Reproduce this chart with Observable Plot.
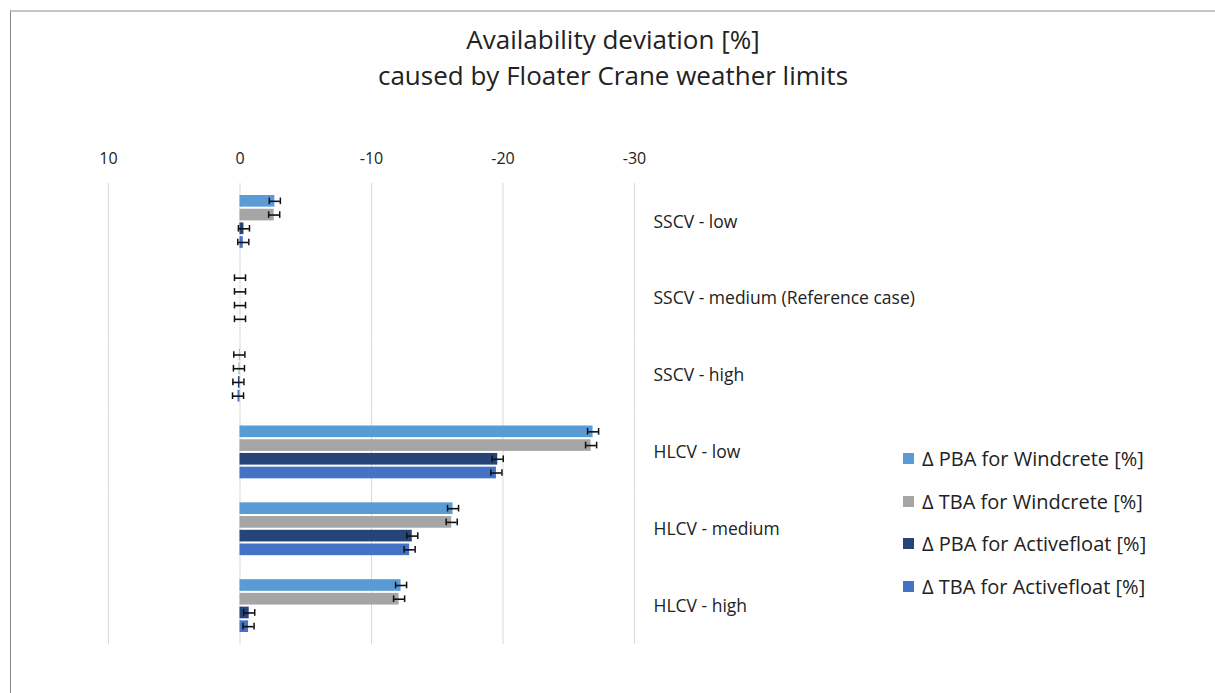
<!DOCTYPE html>
<html>
<head>
<meta charset="utf-8">
<script src="https://cdn.jsdelivr.net/npm/d3@7"></script>
<script src="https://cdn.jsdelivr.net/npm/@observablehq/plot@0.6"></script>
<style>
  html, body { margin: 0; padding: 0; background: #fff; }
  #page { position: relative; width: 1215px; height: 693px; overflow: hidden; font-family: "Open Sans", Lato, sans-serif; }
  #frame { position: absolute; left: 10px; top: 10px; right: -5px; bottom: -5px; border-top: 2px solid #c6c6c6; border-left: 1px solid #8a8a8a; }
  #title { position: absolute; left: 0; top: 21px; width: 1226px; text-align: center; font-size: 26px; line-height: 36px; color: #222; }
  #chart { position: absolute; left: 0; top: 130px; }
  #legend { position: absolute; left: 903px; top: 437px; }
  #legend .lg-swatches { font-family: "Open Sans", Lato, sans-serif !important; font-size: 20px !important; color: #222 !important; margin: 0 !important; }
  #legend .lg-swatch { height: 42.7px !important; padding: 0 !important; margin: 0 !important; display: flex !important; align-items: center !important; font-size: 20px !important; }
  #legend .lg-swatch svg { margin-right: 8px !important; }
</style>
</head>
<body>
<div id="page">
  <div id="frame"></div>
  <div id="title">Availability deviation [%]<br>caused by Floater Crane weather limits</div>
  <div id="chart"></div>
  <div id="legend"></div>
</div>
<script>
const categories = ["SSCV - low", "SSCV - medium (Reference case)", "SSCV - high", "HLCV - low", "HLCV - medium", "HLCV - high"];
const series = ["Δ PBA for Windcrete [%]", "Δ TBA for Windcrete [%]", "Δ PBA for Activefloat [%]", "Δ TBA for Activefloat [%]"];
const pbaWindcrete   = [-2.65, 0, 0.05, -26.85, -16.2, -12.25];
const tbaWindcrete   = [-2.6,  0, 0.08, -26.7,  -16.1, -12.1];
const pbaActivefloat = [-0.3,  0, 0.12, -19.6,  -13.1, -0.7];
const tbaActivefloat = [-0.25, 0, 0.15, -19.5,  -12.9, -0.65];
const errorMargin    = [0.42, 0.42, 0.42, 0.42, 0.42, 0.42];
const xTicks = [10, 0, -10, -20, -30];
const colors = ["#5b9bd5", "#a5a5a5", "#264478", "#4472c4"];

const seriesValues = [pbaWindcrete, tbaWindcrete, pbaActivefloat, tbaActivefloat];
const rows = [];
categories.forEach((c, i) => {
  series.forEach((s, j) => {
    rows.push({category: c, series: s, value: seriesValues[j][i], err: errorMargin[i]});
  });
});

const chart = Plot.plot({
  width: 1215,
  height: 563,
  marginTop: 53,
  marginBottom: 49,
  marginLeft: 108,
  marginRight: 581,
  style: {fontFamily: "'Open Sans', Lato, sans-serif", fontSize: "15.5px", color: "#222", background: "transparent", overflow: "visible"},
  x: {domain: [10, -30], axis: null, label: null},
  y: {domain: series, paddingInner: 0.15, paddingOuter: 0.875, round: false, axis: null, label: null},
  fy: {domain: categories, padding: 0, round: false, axis: null, label: null},
  color: {domain: series, range: colors},
  marks: [
    Plot.gridX(xTicks, {stroke: "#d9d9d9", strokeOpacity: 1, strokeWidth: 1}),
    Plot.barX(rows, {x: "value", y: "series", fy: "category", fill: "series"}),
    Plot.ruleY(rows, {x1: d => d.value - d.err, x2: d => d.value + d.err, y: "series", fy: "category", stroke: "#111", strokeWidth: 1.6}),
    Plot.tickX(rows, {x: d => d.value - d.err, y: "series", fy: "category", stroke: "#111", strokeWidth: 1.5, insetTop: 2.5, insetBottom: 2.5}),
    Plot.tickX(rows, {x: d => d.value + d.err, y: "series", fy: "category", stroke: "#111", strokeWidth: 1.5, insetTop: 2.5, insetBottom: 2.5}),
    Plot.axisX({ticks: xTicks, anchor: "top", tickSize: 0, tickPadding: 20, tickFormat: d => String(d), fontSize: 16, label: null}),
    Plot.axisFy({anchor: "right", tickSize: 0, tickPadding: 19, textAnchor: "start", fontSize: 17.5, label: null})
  ]
});
document.getElementById("chart").appendChild(chart);

const legend = Plot.legend({
  color: {domain: series, range: colors},
  legend: "swatches",
  columns: 1,
  swatchSize: 11,
  className: "lg"
});
document.getElementById("legend").appendChild(legend);
</script>
</body>
</html>
